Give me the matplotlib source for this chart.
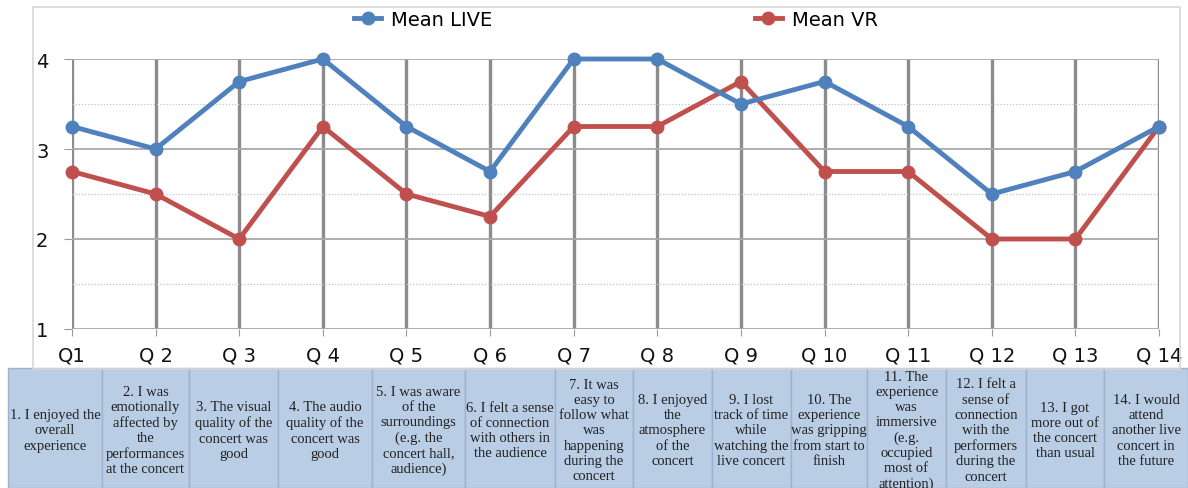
#!/usr/bin/env python3

from matplotlib import pyplot as plt
from matplotlib.patches import Rectangle
from matplotlib.ticker import MultipleLocator

questions = ["Q1", "Q 2", "Q 3", "Q 4", "Q 5", "Q 6", "Q 7", "Q 8", "Q 9",
             "Q 10", "Q 11", "Q 12", "Q 13", "Q 14"]
mean_live = [3.25, 3.0, 3.75, 4.0, 3.25, 2.75, 4.0, 4.0, 3.5, 3.75, 3.25, 2.5, 2.75, 3.25]
mean_vr = [2.75, 2.5, 2.0, 3.25, 2.5, 2.25, 3.25, 3.25, 3.75, 2.75, 2.75, 2.0, 2.0, 3.25]

statements = [
    "1. I enjoyed the\noverall\nexperience",
    "2. I was\nemotionally\naffected by\nthe\nperformances\nat the concert",
    "3. The visual\nquality of the\nconcert was\ngood",
    "4. The audio\nquality of the\nconcert was\ngood",
    "5. I was aware\nof the\nsurroundings\n(e.g. the\nconcert hall,\naudience)",
    "6. I felt a sense\nof connection\nwith others in\nthe audience",
    "7. It was\neasy to\nfollow what\nwas\nhappening\nduring the\nconcert",
    "8. I enjoyed\nthe\natmosphere\nof the\nconcert",
    "9. I lost\ntrack of time\nwhile\nwatching the\nlive concert",
    "10. The\nexperience\nwas gripping\nfrom start to\nfinish",
    "11. The\nexperience\nwas\nimmersive\n(e.g.\noccupied\nmost of\nattention)",
    "12. I felt a\nsense of\nconnection\nwith the\nperformers\nduring the\nconcert",
    "13. I got\nmore out of\nthe concert\nthan usual",
    "14. I would\nattend\nanother live\nconcert in\nthe future",
]

# table column edges in pixels (layout only)
COL_EDGES = [8, 102, 189, 278, 372, 465, 555, 633, 712, 791, 867, 946, 1026, 1104, 1188]

W, H = 1188, 489
BLUE = "#4f81bd"
RED = "#c0504d"

fig = plt.figure(figsize=(W / 100, H / 100), dpi=100)

# outer chart frame
fig.patches.append(Rectangle((33 / W, 1 - 370 / H), (1180 - 33) / W, (370 - 8) / H,
                             transform=fig.transFigure, fill=False,
                             edgecolor="#d6d6d6", linewidth=1.2))

ax = fig.add_axes([72 / W, 1 - 330 / H, (1159 - 72) / W, (330 - 60) / H])
x = list(range(len(questions)))
ax.plot(x, mean_vr, color=RED, lw=3.5, marker="o", ms=9, label="Mean VR",
        clip_on=False, zorder=3)
ax.plot(x, mean_live, color=BLUE, lw=3.5, marker="o", ms=9, label="Mean LIVE",
        clip_on=False, zorder=4)

ax.set_xlim(0, len(questions) - 1)
ax.set_ylim(1, 4)
ax.set_xticks(x)
ax.set_xticklabels(questions, fontsize=14, color="#111111")
ax.yaxis.set_major_locator(MultipleLocator(1))
ax.yaxis.set_minor_locator(MultipleLocator(0.5))
ax.tick_params(axis="y", which="major", labelsize=14, labelcolor="#111111",
               length=6, color="#999999", pad=11)
ax.tick_params(axis="y", which="minor", length=0)
ax.tick_params(axis="x", length=5, color="#999999", pad=7)
for s in ax.spines.values():
    s.set_visible(False)
ax.grid(axis="x", color="#8c8c8c", lw=2.4, zorder=1)
ax.grid(axis="y", which="major", color="#a8a8a8", lw=1.3)
ax.grid(axis="y", which="minor", color="#c4c4c4", lw=0.9, ls=(0, (1, 1.5)))
ax.set_axisbelow(True)

handles, labels = ax.get_legend_handles_labels()
fig.legend(handles[::-1], labels[::-1], ncol=2, loc="center",
           bbox_to_anchor=(616 / W, 1 - 20 / H), frameon=False, fontsize=14,
           handlelength=1.4, handletextpad=0.5, columnspacing=13.5)

# statements table under the chart
th = H - 371
tab = fig.add_axes([0, 0, 1, th / H])
tab.set_xlim(0, W)
tab.set_ylim(0, th)
tab.axis("off")
for i, txt in enumerate(statements):
    x0, x1 = COL_EDGES[i], COL_EDGES[i + 1]
    tab.add_patch(Rectangle((x0, 0), x1 - x0, th + 2, facecolor="#b9cde5",
                            edgecolor="#9db2cc", lw=1.0, clip_on=False))
    tab.text((x0 + x1) / 2, th / 2 - 1, txt, ha="center", va="center",
             fontsize=10.5, family="Liberation Serif", color="#222222",
             linespacing=1.22, clip_on=True)

plt.savefig("out.png", dpi=100)
